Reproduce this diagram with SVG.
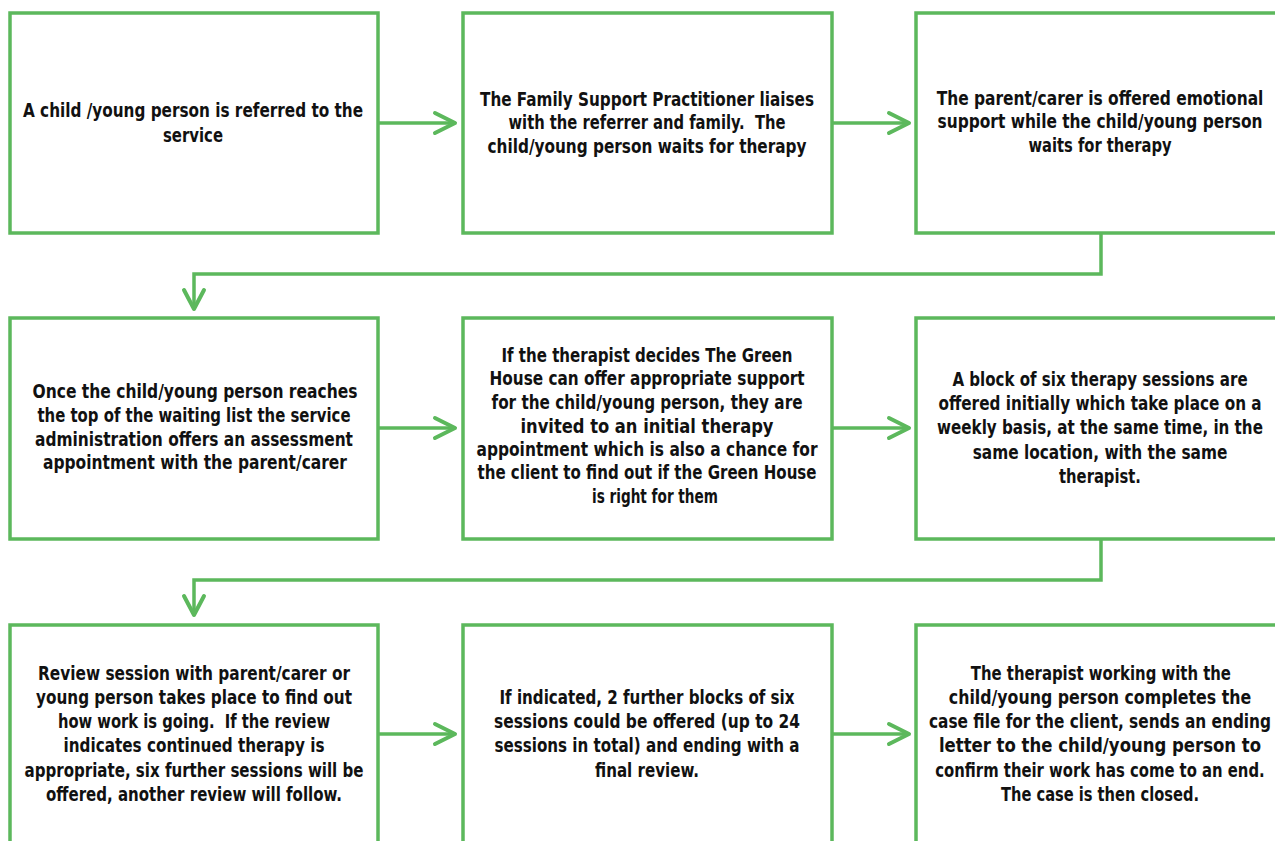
<svg xmlns="http://www.w3.org/2000/svg" width="1275" height="841" viewBox="0 0 1275 841">
<style>
.box{fill:#ffffff;stroke:#5cb85c;stroke-width:3.5}
.ln{fill:none;stroke:#5cb85c;stroke-width:3.5;stroke-linejoin:miter}
.ah{fill:none;stroke:#5cb85c;stroke-width:4;stroke-linecap:round;stroke-linejoin:round}
text{font-family:"Liberation Sans Narrow","DejaVu Sans Condensed","Liberation Sans",sans-serif;font-stretch:condensed;font-weight:bold;font-size:19px;fill:#111111;text-anchor:middle}
</style>
<rect width="1275" height="841" fill="#ffffff"/>
<g id="connectors">
<line class="ln" x1="378" y1="123" x2="454" y2="123"/><polyline class="ah" points="435,113 455,123 435,133"/>
<line class="ln" x1="832" y1="123" x2="908" y2="123"/><polyline class="ah" points="889,113 909,123 889,133"/>
<polyline class="ln" points="1101,233 1101,274 194,274 194,308"/><polyline class="ah" points="184,290 194,309 204,290"/>
<line class="ln" x1="378" y1="428" x2="454" y2="428"/><polyline class="ah" points="435,418 455,428 435,438"/>
<line class="ln" x1="832" y1="428" x2="908" y2="428"/><polyline class="ah" points="889,418 909,428 889,438"/>
<polyline class="ln" points="1101,539 1101,580 194,580 194,613"/><polyline class="ah" points="184,596 194,615 204,596"/>
<line class="ln" x1="378" y1="734" x2="454" y2="734"/><polyline class="ah" points="435,724 455,734 435,744"/>
<line class="ln" x1="832" y1="734" x2="908" y2="734"/><polyline class="ah" points="889,724 909,734 889,744"/>
</g>
<g id="n1"><rect class="box" x="10" y="13" width="368" height="220"/>
<text x="193" y="117" textLength="340" lengthAdjust="spacingAndGlyphs">A child /young person is referred to the</text>
<text x="193" y="142" textLength="60" lengthAdjust="spacingAndGlyphs">service</text></g>
<g id="n2"><rect class="box" x="463" y="13" width="369" height="220"/>
<text x="647" y="106" textLength="334" lengthAdjust="spacingAndGlyphs">The Family Support Practitioner liaises</text>
<text x="647" y="129" textLength="277" lengthAdjust="spacingAndGlyphs">with the referrer and family.&#160; The</text>
<text x="647" y="153" textLength="319" lengthAdjust="spacingAndGlyphs">child/young person waits for therapy</text></g>
<g id="n3"><rect class="box" x="916" y="13" width="370" height="220"/>
<g transform="translate(1100 0) scale(0.9 1)">
<text x="0" y="105" textLength="363" lengthAdjust="spacingAndGlyphs">The parent/carer is offered emotional</text>
<text x="0" y="128" textLength="361" lengthAdjust="spacingAndGlyphs">support while the child/young person</text>
<text x="0" y="152" textLength="159" lengthAdjust="spacingAndGlyphs">waits for therapy</text></g></g>
<g id="n4"><rect class="box" x="10" y="318" width="368" height="221"/>
<text x="195" y="398" textLength="325" lengthAdjust="spacingAndGlyphs">Once the child/young person reaches</text>
<text x="194" y="422" textLength="313" lengthAdjust="spacingAndGlyphs">the top of the waiting list the service</text>
<text x="194" y="446" textLength="318" lengthAdjust="spacingAndGlyphs">administration offers an assessment</text>
<text x="195" y="469" textLength="304" lengthAdjust="spacingAndGlyphs">appointment with the parent/carer</text></g>
<g id="n5"><rect class="box" x="463" y="318" width="369" height="221"/>
<text x="647" y="362" textLength="291" lengthAdjust="spacingAndGlyphs">If the therapist decides The Green</text>
<text x="647" y="385" textLength="315" lengthAdjust="spacingAndGlyphs">House can offer appropriate support</text>
<text x="647" y="409" textLength="311" lengthAdjust="spacingAndGlyphs">for the child/young person, they are</text>
<text x="647" y="433" textLength="253" lengthAdjust="spacingAndGlyphs">invited to an initial therapy</text>
<text x="647" y="456" textLength="341" lengthAdjust="spacingAndGlyphs">appointment which is also a chance for</text>
<text x="647" y="479" textLength="339" lengthAdjust="spacingAndGlyphs">the client to find out if the Green House</text>
<text x="655" y="503" textLength="126" lengthAdjust="spacingAndGlyphs">is right for them</text></g>
<g id="n6"><rect class="box" x="916" y="318" width="370" height="221"/>
<g transform="translate(1100 0) scale(0.9 1)">
<text x="0" y="386" textLength="328" lengthAdjust="spacingAndGlyphs">A block of six therapy sessions are</text>
<text x="0" y="410" textLength="359" lengthAdjust="spacingAndGlyphs">offered initially which take place on a</text>
<text x="0" y="434" textLength="362" lengthAdjust="spacingAndGlyphs">weekly basis, at the same time, in the</text>
<text x="0" y="459" textLength="283" lengthAdjust="spacingAndGlyphs">same location, with the same</text>
<text x="0" y="483" textLength="91" lengthAdjust="spacingAndGlyphs">therapist.</text></g></g>
<g id="n7"><rect class="box" x="10" y="625" width="368" height="220"/>
<text x="194" y="680" textLength="312" lengthAdjust="spacingAndGlyphs">Review session with parent/carer or</text>
<text x="194" y="704" textLength="316" lengthAdjust="spacingAndGlyphs">young person takes place to find out</text>
<text x="194" y="728" textLength="272" lengthAdjust="spacingAndGlyphs">how work is going.&#160; If the review</text>
<text x="194" y="752" textLength="261" lengthAdjust="spacingAndGlyphs">indicates continued therapy is</text>
<text x="194" y="777" textLength="339" lengthAdjust="spacingAndGlyphs">appropriate, six further sessions will be</text>
<text x="194" y="801" textLength="296" lengthAdjust="spacingAndGlyphs">offered, another review will follow.</text></g>
<g id="n8"><rect class="box" x="463" y="625" width="369" height="220"/>
<text x="647" y="704" textLength="295" lengthAdjust="spacingAndGlyphs">If indicated, 2 further blocks of six</text>
<text x="647" y="728" textLength="306" lengthAdjust="spacingAndGlyphs">sessions could be offered (up to 24</text>
<text x="647" y="752" textLength="305" lengthAdjust="spacingAndGlyphs">sessions in total) and ending with a</text>
<text x="647" y="777" textLength="104" lengthAdjust="spacingAndGlyphs">final review.</text></g>
<g id="n9"><rect class="box" x="916" y="625" width="370" height="220"/>
<g transform="translate(1100 0) scale(0.9 1)">
<text x="1" y="680" textLength="289" lengthAdjust="spacingAndGlyphs">The therapist working with the</text>
<text x="0" y="704" textLength="336" lengthAdjust="spacingAndGlyphs">child/young person completes the</text>
<text x="0" y="728" textLength="380" lengthAdjust="spacingAndGlyphs">case file for the client, sends an ending</text>
<text x="0" y="752" textLength="358" lengthAdjust="spacingAndGlyphs">letter to the child/young person to</text>
<text x="0" y="777" textLength="366" lengthAdjust="spacingAndGlyphs">confirm their work has come to an end.</text>
<text x="0" y="801" textLength="220" lengthAdjust="spacingAndGlyphs">The case is then closed.</text></g></g>
</svg>
